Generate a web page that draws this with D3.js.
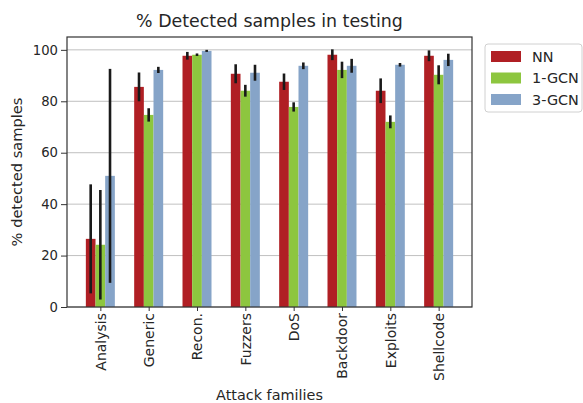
<!DOCTYPE html>
<html>
<head>
<meta charset="utf-8">
<script src="https://cdn.jsdelivr.net/npm/d3@7"></script>
<style>
  html, body { margin: 0; padding: 0; background: #fff; }
  svg { display: block; font-family: "DejaVu Sans", sans-serif; }
</style>
</head>
<body>
<svg id="chart" width="583" height="403"></svg>
<script>
// Attack families and per-model detection rates (mean ± std, %)
const categories = ["Analysis", "Generic", "Recon.", "Fuzzers", "DoS", "Backdoor", "Exploits", "Shellcode"];
const seriesNames = ["NN", "1-GCN", "3-GCN"];
const nnMean   = [26.5, 85.6, 97.7, 90.7, 87.6, 98.1, 84.1, 97.7];
const nnErr    = [21.2, 5.6, 1.5, 3.7, 3.2, 2.1, 4.8, 2.1];
const gcn1Mean = [24.2, 74.7, 98.1, 84.1, 77.8, 92.2, 72.0, 90.3];
const gcn1Err  = [21.3, 2.6, 0.5, 2.3, 1.8, 3.2, 2.5, 3.7];
const gcn3Mean = [51.0, 92.2, 99.6, 91.1, 93.8, 93.8, 94.2, 96.1];
const gcn3Err  = [41.6, 1.2, 0.4, 3.1, 1.3, 2.7, 0.7, 2.4];
const yTicks = [0, 20, 40, 60, 80, 100];
const colors = ["#b01f24", "#8dc63f", "#86a4c8"];

const means = [nnMean, gcn1Mean, gcn3Mean];
const errs = [nnErr, gcn1Err, gcn3Err];

const svg = d3.select("#chart");
const plotL = 67, plotR = 472, plotT = 37, plotB = 307;
const ink = "#262626";

const x = d3.scaleLinear().domain([-0.69, categories.length - 1 + 0.69]).range([plotL, plotR]);
const y = d3.scaleLinear().domain([0, 105]).range([plotB, plotT]);
const barW = 0.2;
const offsets = [-0.2, 0, 0.2];

// horizontal grid
svg.append("g").selectAll("line").data(yTicks).join("line")
  .attr("x1", plotL).attr("x2", plotR)
  .attr("y1", d => y(d)).attr("y2", d => y(d))
  .attr("stroke", "#b0b0b0").attr("stroke-width", 0.8);

// bars
const rows = [];
categories.forEach((c, i) => {
  seriesNames.forEach((s, k) => {
    rows.push({ i, k, v: means[k][i], e: errs[k][i] });
  });
});

svg.append("g").selectAll("rect").data(rows).join("rect")
  .attr("x", d => x(d.i + offsets[d.k] - barW / 2))
  .attr("width", d => x(d.i + offsets[d.k] + barW / 2) - x(d.i + offsets[d.k] - barW / 2))
  .attr("y", d => y(d.v))
  .attr("height", d => y(0) - y(d.v))
  .attr("fill", d => colors[d.k]);

// error bars
svg.append("g").selectAll("line").data(rows).join("line")
  .attr("x1", d => x(d.i + offsets[d.k])).attr("x2", d => x(d.i + offsets[d.k]))
  .attr("y1", d => y(d.v - d.e)).attr("y2", d => y(d.v + d.e))
  .attr("stroke", "#1a1a1a").attr("stroke-width", 2.6);

// frame
svg.append("rect")
  .attr("x", plotL).attr("y", plotT)
  .attr("width", plotR - plotL).attr("height", plotB - plotT)
  .attr("fill", "none").attr("stroke", "#333").attr("stroke-width", 1.2);

// y axis
const yAxis = svg.append("g").attr("transform", `translate(${plotL},0)`)
  .call(d3.axisLeft(y).tickValues(yTicks).tickSize(6).tickPadding(3));
yAxis.select(".domain").remove();
yAxis.selectAll("line").attr("stroke", "#333");
yAxis.selectAll("text").attr("font-size", 13.2).attr("fill", ink)
  .attr("font-family", "DejaVu Sans, sans-serif");

// x axis
const xAxis = svg.append("g").attr("transform", `translate(0,${plotB})`)
  .call(d3.axisBottom(x).tickValues(d3.range(categories.length)).tickSize(4)
    .tickFormat(i => categories[i]));
xAxis.select(".domain").remove();
xAxis.selectAll("line").attr("stroke", "#333");
xAxis.selectAll("text")
  .attr("font-size", 14).attr("fill", ink)
  .attr("font-family", "DejaVu Sans, sans-serif")
  .attr("transform", "rotate(-90)")
  .attr("text-anchor", "end")
  .attr("x", -6).attr("y", 0).attr("dy", "0.35em");

// titles
svg.append("text").attr("x", (plotL + plotR) / 2).attr("y", 27)
  .attr("text-anchor", "middle").attr("font-size", 17.4).attr("fill", ink)
  .text("% Detected samples in testing");
svg.append("text").attr("x", (plotL + plotR) / 2).attr("y", 400)
  .attr("text-anchor", "middle").attr("font-size", 14.4).attr("fill", ink)
  .text("Attack families");
svg.append("text")
  .attr("transform", `translate(21.5,${(plotT + plotB) / 2}) rotate(-90)`)
  .attr("text-anchor", "middle").attr("font-size", 14.6).attr("fill", ink)
  .text("% detected samples");

// legend
const lg = svg.append("g").attr("transform", "translate(485,44)");
lg.append("rect").attr("width", 97).attr("height", 68).attr("rx", 3)
  .attr("fill", "#fff").attr("stroke", "#d0d0d0");
seriesNames.forEach((s, k) => {
  const row = lg.append("g").attr("transform", `translate(6,${12.5 + k * 21.5})`);
  row.append("rect").attr("x", 0).attr("y", -5.5).attr("width", 30).attr("height", 11)
    .attr("fill", colors[k]);
  row.append("text").attr("x", 41).attr("y", 0).attr("dy", "0.35em")
    .attr("font-size", 14.4).attr("fill", ink).text(s);
});
</script>
</body>
</html>
